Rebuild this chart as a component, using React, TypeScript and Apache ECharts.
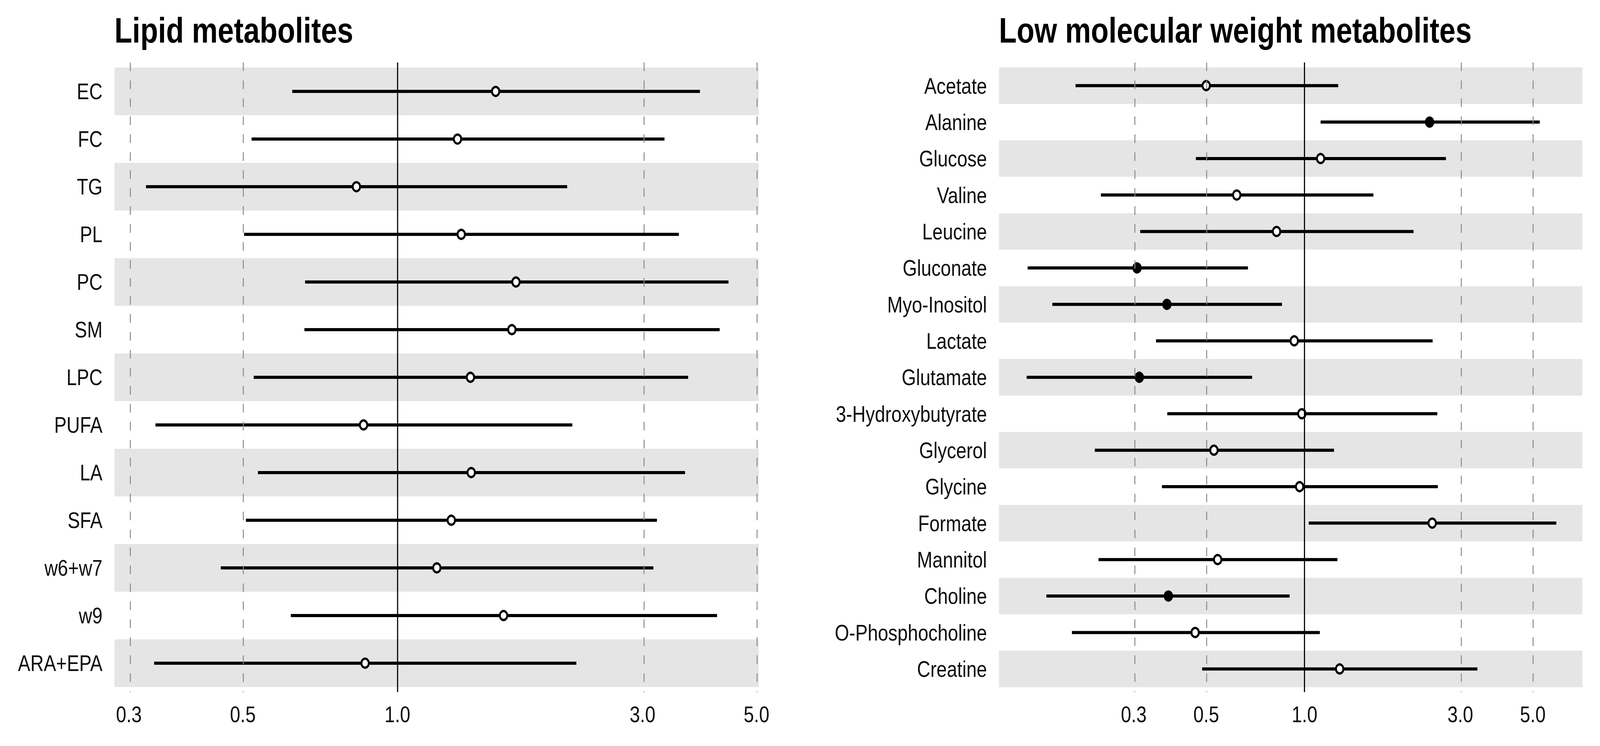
import React, { useEffect, useRef } from "react";
import * as echarts from "echarts";

// ---------- data ----------
const lipidNames = ["EC", "FC", "TG", "PL", "PC", "SM", "LPC", "PUFA", "LA", "SFA", "w6+w7", "w9", "ARA+EPA"];
const lipidEst = [1.553, 1.309, 0.832, 1.331, 1.701, 1.67, 1.387, 0.859, 1.392, 1.273, 1.193, 1.609, 0.865];
const lipidLow = [0.624, 0.52, 0.324, 0.503, 0.661, 0.659, 0.525, 0.338, 0.535, 0.507, 0.453, 0.62, 0.336];
const lipidHigh = [3.88, 3.31, 2.14, 3.53, 4.41, 4.24, 3.68, 2.19, 3.63, 3.2, 3.15, 4.19, 2.23];
const lipidSig = [0, 0, 0, 0, 0, 0, 0, 0, 0, 0, 0, 0, 0];

const lmwNames = [
  "Acetate", "Alanine", "Glucose", "Valine", "Leucine", "Gluconate", "Myo-Inositol", "Lactate",
  "Glutamate", "3-Hydroxybutyrate", "Glycerol", "Glycine", "Formate", "Mannitol", "Choline",
  "O-Phosphocholine", "Creatine",
];
const lmwEst = [0.5, 2.415, 1.12, 0.62, 0.821, 0.307, 0.379, 0.93, 0.312, 0.981, 0.528, 0.966, 2.46, 0.542, 0.383, 0.4625, 1.281];
const lmwLow = [0.199, 1.12, 0.465, 0.238, 0.314, 0.142, 0.169, 0.351, 0.141, 0.38, 0.228, 0.366, 1.03, 0.234, 0.162, 0.194, 0.486];
const lmwHigh = [1.268, 5.25, 2.71, 1.625, 2.157, 0.671, 0.853, 2.467, 0.691, 2.55, 1.231, 2.56, 5.9, 1.261, 0.9, 1.114, 3.383];
const lmwSig = [0, 1, 0, 0, 0, 1, 1, 0, 1, 0, 0, 0, 0, 0, 1, 0, 0];

const tickValues = [0.3, 0.5, 1, 3, 5];
const tickLabels = ["0.3", "0.5", "1.0", "3.0", "5.0"];
const lipidRange = [0.2813, 5.05];
const lmwRange = [0.116, 7.09];

// ---------- layout ----------
const W = 4262;
const H = 1910;
const SX = 0.85; // horizontal compression of the whole figure
const CW = W / SX;
const FONT = "'Liberation Sans', Arial, Helvetica, sans-serif";
const GRID_TOP = 160;
const GRID_H = 1612;

const log10 = (v: number) => Math.log10(v);

function tickLabel(v: number) {
  let best = 0;
  let bd = Infinity;
  tickValues.forEach((t, i) => {
    const d = Math.abs(log10(t) - v);
    if (d < bd) {
      bd = d;
      best = i;
    }
  });
  return tickLabels[best];
}

function buildPanel(
  gi: number,
  names: string[],
  est: number[],
  low: number[],
  high: number[],
  sig: number[],
  range: number[],
  pad: number
) {
  const n = names.length;
  const xAxis = {
    gridIndex: gi,
    type: "value",
    min: log10(range[0]),
    max: log10(range[1]),
    axisLine: { show: false },
    axisTick: { show: false },
    splitLine: { show: false },
    axisLabel: {
      customValues: tickValues.map(log10),
      formatter: (v: number) => tickLabel(v),
      fontSize: 58,
      color: "#0d0d0d",
      margin: 28,
      fontFamily: FONT,
    },
  };
  const yAxis = {
    gridIndex: gi,
    type: "value",
    inverse: true,
    min: 0.5 - pad,
    max: n + 0.5 + pad,
    axisLine: { show: false },
    axisTick: { show: false },
    splitLine: { show: false },
    axisLabel: {
      customValues: names.map((_, i) => i + 1),
      formatter: (v: number) => names[Math.round(v) - 1] ?? "",
      fontSize: 58,
      color: "#0d0d0d",
      margin: 37.6,
      fontFamily: FONT,
    },
  };
  const bandData = names.map((_, i) => [0, i + 1]).filter((_, i) => i % 2 === 0);
  const bands = {
    type: "custom",
    xAxisIndex: gi,
    yAxisIndex: gi,
    silent: true,
    z: 1,
    encode: { x: 0, y: 1 },
    data: bandData,
    renderItem: (params: any, api: any) => {
      const row = api.value(1);
      const cs = params.coordSys;
      const a = api.coord([0, row - 0.5])[1];
      const b = api.coord([0, row + 0.5])[1];
      return {
        type: "rect",
        shape: { x: cs.x, y: Math.min(a, b), width: cs.width, height: Math.abs(b - a) },
        style: { fill: "#e5e5e5" },
      };
    },
    markLine: {
      silent: true,
      symbol: ["none", "none"],
      label: { show: false },
      animation: false,
      data: [
        ...tickValues
          .filter((t) => t !== 1)
          .map((t) => ({
            xAxis: log10(t),
            lineStyle: { color: "#8a8a8a", width: 3, type: [22, 24] },
          })),
        { xAxis: 0, lineStyle: { color: "#000", width: 3.5, type: "solid" } },
      ],
    },
  };
  const bars = {
    type: "custom",
    xAxisIndex: gi,
    yAxisIndex: gi,
    silent: true,
    z: 3,
    encode: { x: [0, 1], y: 2 },
    data: names.map((_, i) => [log10(low[i]), log10(high[i]), i + 1]),
    renderItem: (_p: any, api: any) => {
      const y = api.value(2);
      const p1 = api.coord([api.value(0), y]);
      const p2 = api.coord([api.value(1), y]);
      return {
        type: "line",
        shape: { x1: p1[0], y1: p1[1], x2: p2[0], y2: p2[1] },
        style: { stroke: "#000", lineWidth: 8, lineCap: "butt" },
      };
    },
  };
  const points = {
    type: "scatter",
    xAxisIndex: gi,
    yAxisIndex: gi,
    silent: true,
    z: 4,
    symbol: "circle",
    symbolSize: 23,
    data: names.map((_, i) => ({
      value: [log10(est[i]), i + 1],
      itemStyle: {
        color: sig[i] ? "#000" : "#fff",
        borderColor: "#000",
        borderWidth: 6,
        opacity: 1,
      },
    })),
  };
  return { xAxis, yAxis, series: [bands, bars, points] };
}

export default function App() {
  const ref = useRef<HTMLDivElement>(null);
  const vw = typeof window !== "undefined" && window.innerWidth ? window.innerWidth : W;
  const vh = typeof window !== "undefined" && window.innerHeight ? window.innerHeight : H;
  const kx = vw / W;
  const ky = vh / H;
  useEffect(() => {
    if (!ref.current) return;
    const chart = echarts.init(ref.current, null, { renderer: "svg" });
    const left = buildPanel(0, lipidNames, lipidEst, lipidLow, lipidHigh, lipidSig, lipidRange, 0.107);
    const right = buildPanel(1, lmwNames, lmwEst, lmwLow, lmwHigh, lmwSig, lmwRange, 0.135);
    const g0Left = 305 / SX;
    const g0W = 1716 / SX;
    const g1Left = 2661 / SX;
    const g1W = 1554 / SX;
    chart.setOption({
      animation: false,
      backgroundColor: "#fff",
      title: [
        {
          text: "Lipid metabolites",
          left: g0Left,
          top: 32,
          padding: 0,
          textStyle: { fontSize: 91, fontWeight: "bold", color: "#000", fontFamily: FONT },
        },
        {
          text: "Low molecular weight metabolites",
          left: g1Left,
          top: 32,
          padding: 0,
          textStyle: { fontSize: 91, fontWeight: "bold", color: "#000", fontFamily: FONT },
        },
      ],
      grid: [
        { left: g0Left, top: GRID_TOP, width: g0W, height: GRID_H, outerBoundsMode: "none", containLabel: false },
        { left: g1Left, top: GRID_TOP, width: g1W, height: GRID_H, outerBoundsMode: "none", containLabel: false },
      ],
      xAxis: [left.xAxis, right.xAxis],
      yAxis: [left.yAxis, right.yAxis],
      series: [...left.series, ...right.series],
    } as any);
    return () => chart.dispose();
  }, []);
  return (
    <div
      style={{
        position: "fixed",
        left: 0,
        top: 0,
        width: vw,
        height: vh,
        overflow: "hidden",
        background: "#fff",
      }}
    >
      <div
        ref={ref}
        style={{
          width: CW,
          height: H,
          transform: `scale(${SX * kx}, ${ky})`,
          transformOrigin: "0 0",
        }}
      />
    </div>
  );
}
